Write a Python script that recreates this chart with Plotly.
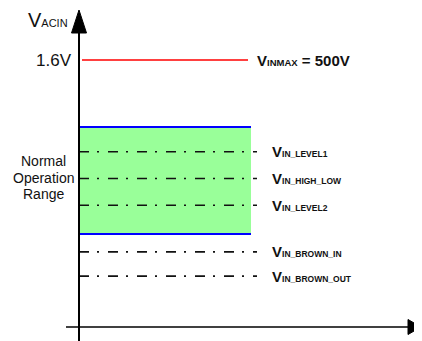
import plotly.graph_objects as go

# ---- data (volts on the V_ACIN axis) ----
max_name = "INMAX"
max_suffix = " = 500V"
max_value = 1.6
max_tick = "1.6V"
level_names = ["IN_LEVEL1", "IN_HIGH_LOW", "IN_LEVEL2", "IN_BROWN_IN", "IN_BROWN_OUT"]
level_values = [1.05, 0.89, 0.73, 0.45, 0.305]
range_low, range_high = 0.557, 1.198
range_label_lines = ["Normal", "Operation", "Range"]
y_title = "V"
y_title_sub = "ACIN"

# ---- layout constants ----
W, H = 422, 341
OFF = 8                     # page body margin
PX_PER_V = 166.875          # vertical scale
X0_PX, Y0_PX = 79, 327      # origin in window pixels
YMIN = -(H - Y0_PX) / PX_PER_V
YMAX = (Y0_PX - OFF) / PX_PER_V
XMIN, XMAX = OFF - X0_PX, W - X0_PX
BOX_X1 = 172
DASH_X1 = 178
RED_X0, RED_X1 = 3, 169
LABEL_X = 191
MAX_LABEL_X = 176
FONT = "Liberation Sans, Arial, sans-serif"
INK = "#111111"


def ypx(p):
    return (Y0_PX - p) / PX_PER_V


fig = go.Figure()

# normal operation band
fig.add_shape(type="rect", xref="x", yref="y", x0=0, x1=BOX_X1, y0=range_low, y1=range_high,
              fillcolor="#99FF99", line=dict(width=0), layer="below")
for yv in (range_low, range_high):
    fig.add_trace(go.Scatter(x=[0, BOX_X1], y=[yv, yv], mode="lines",
                             line=dict(color="#0000FF", width=2), hoverinfo="skip"))

# max line
fig.add_trace(go.Scatter(x=[RED_X0, RED_X1], y=[max_value, max_value], mode="lines",
                         line=dict(color="#FF0000", width=1.5), hoverinfo="skip"))

# level lines
for name, v in zip(level_names, level_values):
    fig.add_trace(go.Scatter(x=[0, DASH_X1], y=[v, v], mode="lines",
                             line=dict(color=INK, width=1.6, dash="10px,8px,2px,9px"),
                             hoverinfo="skip"))
    fig.add_annotation(x=LABEL_X, y=v, xref="x", yref="y", xanchor="left", yanchor="middle",
                       showarrow=False,
                       text=f"<b>V<span style='font-size:8.5px'>{name}</span></b>",
                       font=dict(family=FONT, size=15, color=INK))

# axes
ARW_Y_LEN = 23 / PX_PER_V
ARW_Y_HALF = 7.5
ARW_X_LEN = 13
ARW_X_HALF = 7.5 / PX_PER_V
y_tip = ypx(10)
x_tip = W - 1 - X0_PX
fig.add_shape(type="line", xref="x", yref="y", x0=0, x1=0, y0=YMIN, y1=y_tip - ARW_Y_LEN,
              line=dict(color="black", width=2))
fig.add_shape(type="path", xref="x", yref="y",
              path=f"M {-ARW_Y_HALF},{y_tip - ARW_Y_LEN} L 0,{y_tip} L {ARW_Y_HALF},{y_tip - ARW_Y_LEN} Z",
              fillcolor="black", line=dict(color="black", width=1))
fig.add_shape(type="line", xref="x", yref="y", x0=66 - X0_PX, x1=x_tip - ARW_X_LEN, y0=0, y1=0,
              line=dict(color="black", width=1.5))
fig.add_shape(type="path", xref="x", yref="y",
              path=f"M {x_tip - ARW_X_LEN},{-ARW_X_HALF} L {x_tip},0 L {x_tip - ARW_X_LEN},{ARW_X_HALF} Z",
              fillcolor="black", line=dict(color="black", width=1))

# texts
fig.add_annotation(x=MAX_LABEL_X, y=max_value, xref="x", yref="y", xanchor="left", yanchor="middle",
                   showarrow=False,
                   text=f"<b>V<span style='font-size:9.5px'>{max_name}</span>{max_suffix}</b>",
                   font=dict(family=FONT, size=15, color=INK))
fig.add_annotation(x=-5, y=max_value, xref="x", yref="y", xanchor="right", yanchor="middle",
                   showarrow=False, text=max_tick, font=dict(family=FONT, size=17, color=INK))
fig.add_annotation(x=-9, y=ypx(20), xref="x", yref="y", xanchor="right",
                   yanchor="middle", showarrow=False,
                   text=f"{y_title}<span style='font-size:11px'>{y_title_sub}</span>",
                   font=dict(family=FONT, size=20, color=INK))
for line_text, p in zip(range_label_lines, [161, 177.5, 194]):
    fig.add_annotation(x=43.5 - X0_PX, y=ypx(p), xref="x", yref="y",
                       xanchor="center", yanchor="middle", showarrow=False, text=line_text,
                       font=dict(family=FONT, size=14, color=INK))

fig.update_layout(
    width=W - OFF, height=H - OFF, margin=dict(l=0, r=0, t=0, b=0),
    plot_bgcolor="white", paper_bgcolor="white", showlegend=False,
    xaxis=dict(range=[XMIN, XMAX], visible=False, fixedrange=True),
    yaxis=dict(range=[YMIN, YMAX], visible=False, fixedrange=True),
)
fig.write_html("out.html")
